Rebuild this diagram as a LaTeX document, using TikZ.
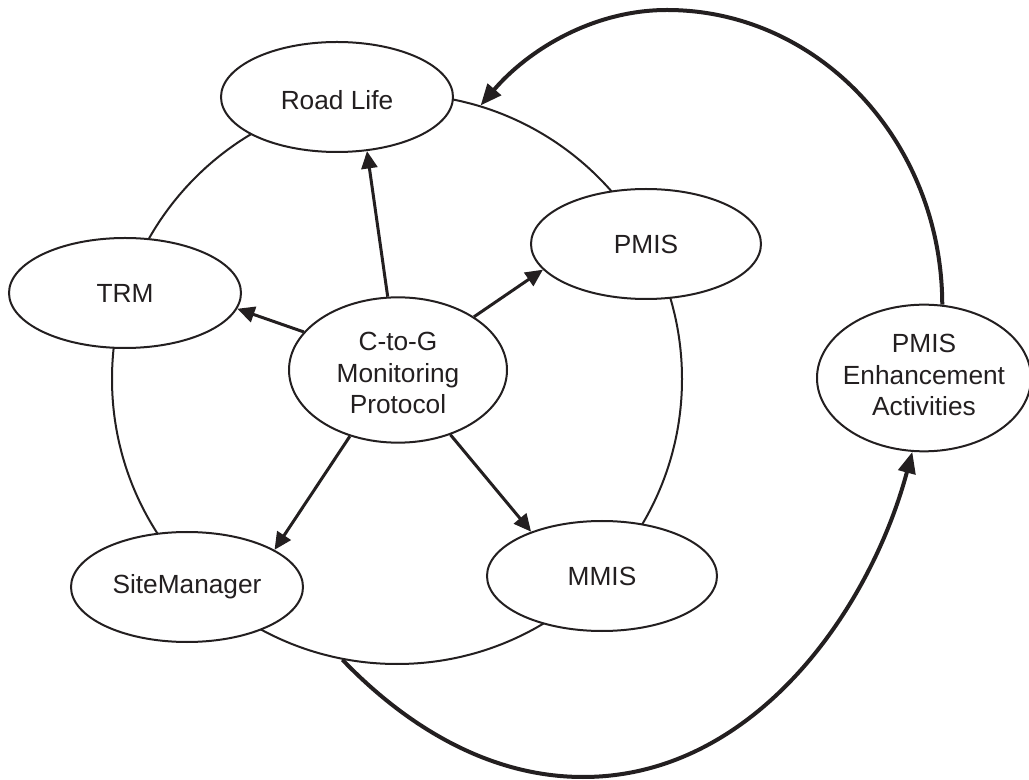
\documentclass[tikz,border=0pt]{standalone}
\usepackage{fontspec}
\setmainfont{Liberation Sans}
\usetikzlibrary{shapes.geometric,arrows.meta}
\definecolor{ink}{HTML}{231F20}
\newcommand\mlines[1]{\makebox[0pt]{\begin{tabular}{@{}c@{}}#1\end{tabular}}}
\newcommand\lowered[2]{\raisebox{-#1}[\height][\depth]{#2}}
\begin{document}
\begin{tikzpicture}[x=0.75pt,y=-0.75pt,
  every node/.style={font=\fontsize{19.7}{23.7}\selectfont, text=ink},
  oval/.style={draw=ink, ellipse, line width=1.5pt, fill=white, inner sep=0pt,
    minimum width=174pt, minimum height=82.5pt},
  ring/.style={draw=ink, circle, line width=1.5pt, inner sep=0pt, minimum size=427.5pt},
  link/.style={draw=ink, line width=2.25pt, -{Triangle[length=13pt,width=12pt]}},
  loop/.style={draw=ink, line width=3pt, -{Triangle[length=16pt,width=13pt]}}]
\useasboundingbox (0,0) rectangle (1029,780);
\node[ring] (cycle) at (397,379) {};
\node[oval] (rl) at (337,97) {\lowered{2pt}{Road Life}};
\node[oval] (trm) at (125,293) {TRM};
\node[oval, minimum width=172.5pt] (pmis) at (646,244) {PMIS};
\node[oval] (sm) at (187,587) {SiteManager};
\node[oval, minimum width=172.5pt] (mmis) at (602,576) {MMIS};
\node[oval, minimum width=163.5pt, minimum height=109pt] (ctg) at (398,370)
  {\lowered{4.5pt}{\mlines{C-to-G\\Monitoring\\Protocol}}};
\node[oval, minimum width=160.5pt, minimum height=110pt] (pe) at (924,378)
  {\mlines{PMIS\\Enhancement\\Activities}};
\draw[link] (ctg.98.7) -- (rl.-61.4);
\draw[link] (ctg.158.9) -- (trm.-8.8);
\draw[link] (ctg.35.2) -- (pmis.194.2);
\draw[link] (ctg.234.8) -- (sm.23.3);
\draw[link] (ctg.-51.1) -- (mmis.148.9);
\coordinate (top) at (667,10);
\coordinate (bot) at (583,777);
\draw[loop] (pe.76) .. controls (942,142) and (819,10) .. (top)
  .. controls (593,10) and (528,50) .. (cycle.73.8);
\draw[loop] (cycle.259.4) .. controls (407,727) and (490,777) .. (bot)
  .. controls (754,777) and (870,610) .. (pe.-99);
\end{tikzpicture}
\end{document}
